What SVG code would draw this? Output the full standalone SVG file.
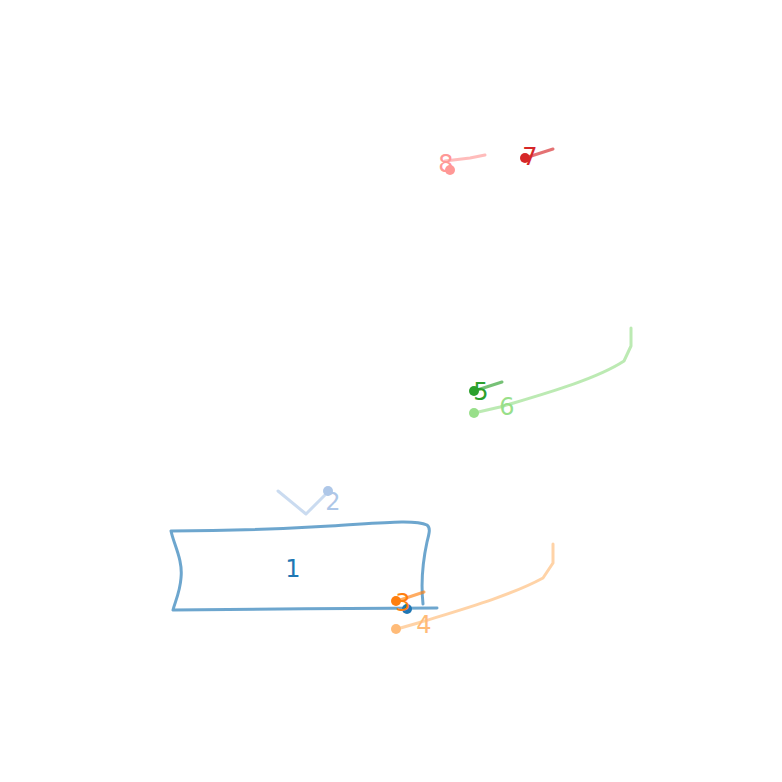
<svg xmlns="http://www.w3.org/2000/svg" width="782" height="782" viewBox="0 0 782 782">
<style>
.ln{fill:none;stroke-width:3;stroke-linecap:round;stroke-linejoin:round;stroke-opacity:0.65}
.lb{font-family:"DejaVu Sans",sans-serif;font-size:24px;text-anchor:middle;dominant-baseline:central}
</style>
<rect width="782" height="782" fill="#ffffff"/>
<g id="connectors">
<path class="ln" stroke="#1f77b4" d="M171,531 C220,531 280,529 330,526 C380,523 415,519 427,525 C431,528 429,534 427,542 C422,565 421,585 423,604 M171,531 C174,545 183,560 181,578 C180,592 175,602 173,610 C260,609 350,608 437,608"/>
<path class="ln" stroke="#aec7e8" d="M278,491 L306,514 L328,492"/>
<path class="ln" stroke="#ff7f0e" d="M397,601 L424,592"/>
<path class="ln" stroke="#ffbb78" d="M397,629 L418,623 C460,610 510,596 543,578 L553,563 L553,544"/>
<path class="ln" stroke="#2ca02c" d="M474,391 L502,382"/>
<path class="ln" stroke="#98df8a" d="M474,413 L500,407 C540,395 595,380 624,361 L631,346 L631,328"/>
<path class="ln" stroke="#d62728" d="M525,158 L553,149"/>
<path class="ln" stroke="#ff9896" d="M445,161 L470,158 L485,155"/>
</g>
<g id="node1"><circle cx="407" cy="609" r="5" fill="#1f77b4"/><text class="lb" x="293" y="569" fill="#1f77b4">1</text></g>
<g id="node2"><circle cx="328" cy="491" r="5" fill="#aec7e8"/><text class="lb" x="333" y="502" fill="#aec7e8">2</text></g>
<g id="node3"><circle cx="396" cy="601" r="5" fill="#ff7f0e"/><text class="lb" x="403" y="603" fill="#ff7f0e">3</text></g>
<g id="node4"><circle cx="396" cy="629" r="5" fill="#ffbb78"/><text class="lb" x="424" y="625" fill="#ffbb78">4</text></g>
<g id="node5"><circle cx="474" cy="391" r="5" fill="#2ca02c"/><text class="lb" x="481" y="392" fill="#2ca02c">5</text></g>
<g id="node6"><circle cx="474" cy="413" r="5" fill="#98df8a"/><text class="lb" x="507" y="407" fill="#98df8a">6</text></g>
<g id="node7"><circle cx="525" cy="158" r="5" fill="#d62728"/><text class="lb" x="530" y="157" fill="#d62728">7</text></g>
<g id="node8"><circle cx="450" cy="170" r="5" fill="#ff9896"/><text class="lb" x="446" y="164" fill="#ff9896">8</text></g>
</svg>
